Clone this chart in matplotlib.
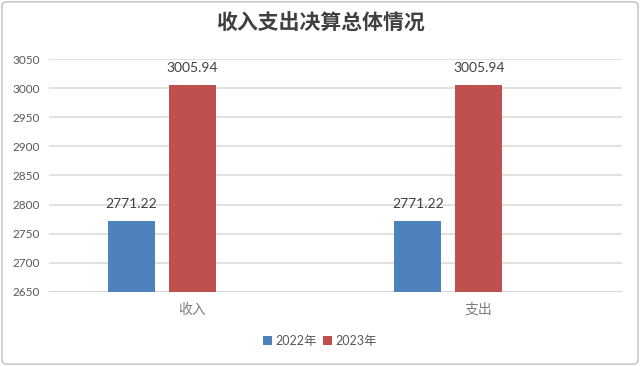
import matplotlib.pyplot as plt
from matplotlib.patches import FancyBboxPatch

categories = ["收入", "支出"]
series_names = ["2022年", "2023年"]
values_2022 = [2771.22, 2771.22]
values_2023 = [3005.94, 3005.94]

plt.rcParams['font.family'] = ['Lato', 'Noto Sans CJK SC', 'DejaVu Sans']

fig = plt.figure(figsize=(6.4, 3.66), dpi=100)
ax = fig.add_axes([0.077, 0.203, 0.895, 0.635])

x = list(range(len(categories)))
width = 0.164
offset = 0.213
colors = ["#4F81BD", "#C0504D"]

b1 = ax.bar([i - offset for i in x], values_2022, width, color=colors[0], label=series_names[0])
b2 = ax.bar(x, values_2023, width, color=colors[1], label=series_names[1])

for bars in (b1, b2):
    for rect in bars:
        h = rect.get_height()
        ax.annotate(f"{h:.2f}", (rect.get_x() + rect.get_width() / 2, h),
                    xytext=(0, 8), textcoords="offset points",
                    ha="center", va="bottom", fontsize=10, color="#404040")

ax.set_xlim(-0.5, 1.5)
ax.set_ylim(2650, 3050)
ax.set_yticks(range(2650, 3051, 50))
ax.set_xticks(x)
ax.set_xticklabels(categories, fontfamily=['Noto Sans CJK SC'], fontsize=10, color="#7F7F7F")
ax.tick_params(axis='y', labelsize=8.5, labelcolor="#595959", length=0, pad=6.5)
ax.tick_params(axis='x', length=0, pad=8)
ax.grid(axis='y', color="#D9D9D9", linewidth=1.1)
ax.set_axisbelow(True)
for s in ax.spines.values():
    s.set_visible(False)
ax.axhline(2650, color="#D0D0D0", linewidth=1.3, zorder=0.5)

fig.suptitle("收入支出决算总体情况", x=0.5, y=0.965, fontsize=15, fontweight='bold',
             color="#404040", fontfamily=['Noto Sans CJK SC'])

leg = fig.legend(handles=[b1, b2], labels=series_names, loc="center", bbox_to_anchor=(0.5, 0.068),
                 ncol=2, frameon=False, fontsize=9, handlelength=0.7, handleheight=0.7,
                 handletextpad=0.3, columnspacing=0.5)
for t in leg.get_texts():
    t.set_color("#595959")

border = FancyBboxPatch((0.003, 0.005), 0.994, 0.99, boxstyle="round,pad=0,rounding_size=0.01",
                        transform=fig.transFigure, fill=False, edgecolor="#BFBFBF", linewidth=1)
fig.patches.append(border)

fig.savefig("out.png", dpi=100)
